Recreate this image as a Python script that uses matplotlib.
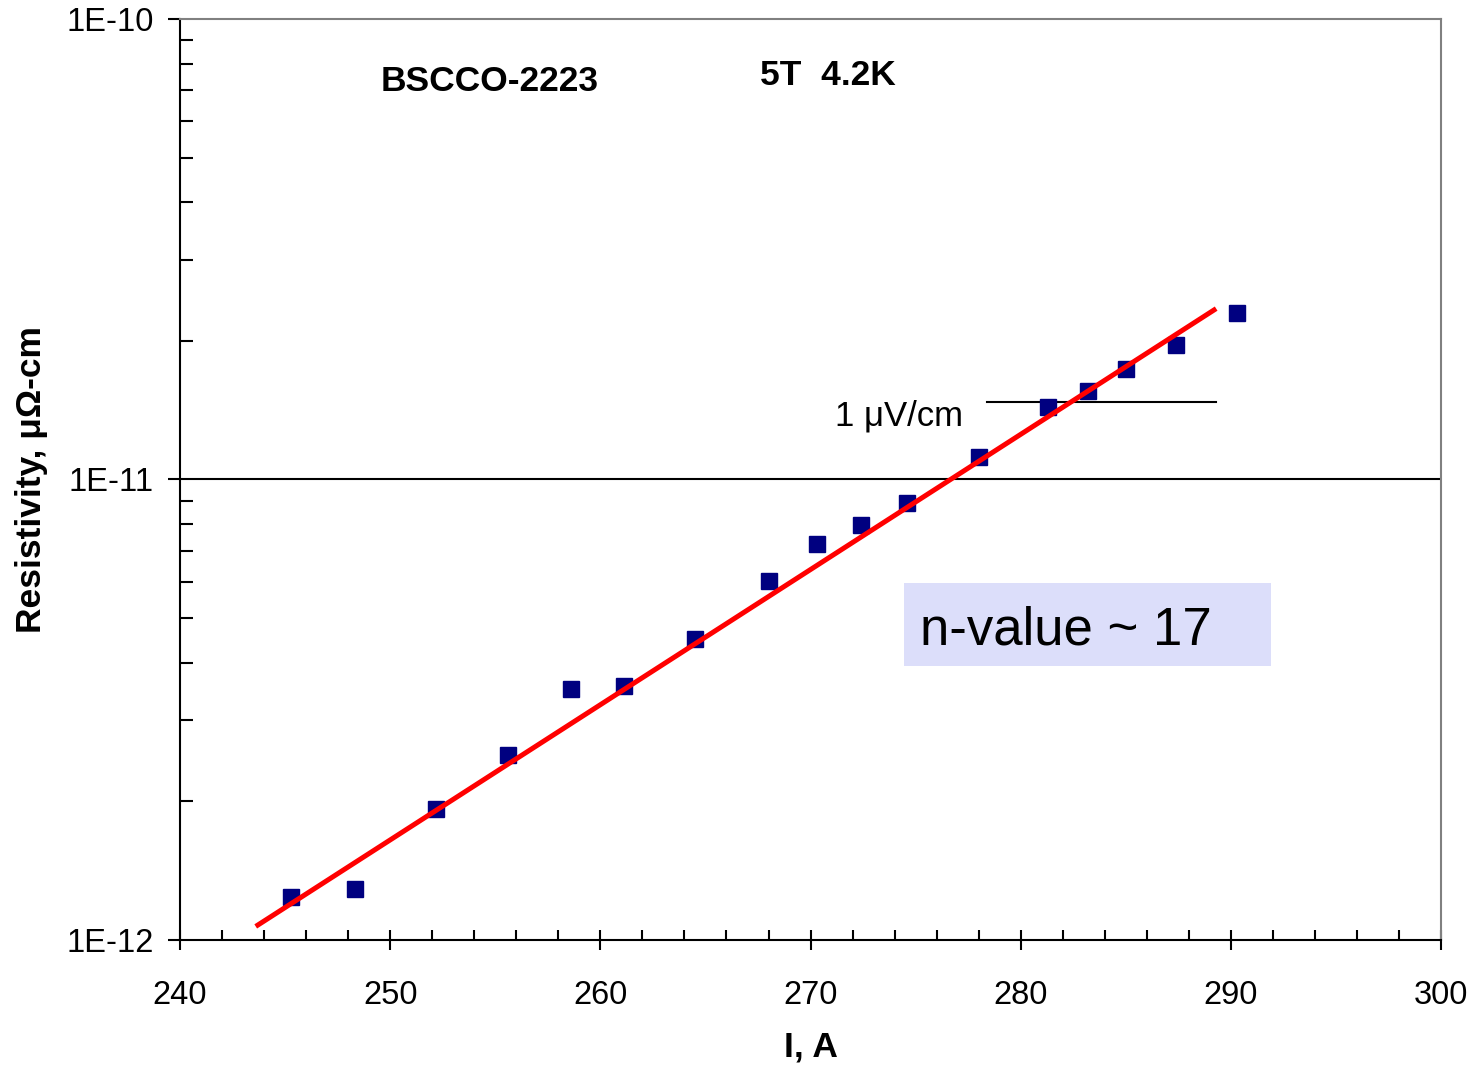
import matplotlib
matplotlib.use("Agg")
import matplotlib.pyplot as plt
import matplotlib.ticker as ticker
import matplotlib.patches as patches

plt.rcParams['font.family'] = ['Liberation Sans', 'DejaVu Sans']

## Measured points: current (A) and resistivity (uOhm-cm)
current = [245.3, 248.3, 252.2, 255.6, 258.6, 261.1, 264.5, 268.0, 270.3,
           272.4, 274.6, 278.0, 281.3, 283.2, 285.0, 287.4, 290.3]
resistivity = [1.24e-12, 1.29e-12, 1.92e-12, 2.52e-12, 3.51e-12, 3.56e-12,
               4.50e-12, 6.02e-12, 7.24e-12, 7.97e-12, 8.89e-12, 1.12e-11,
               1.44e-11, 1.56e-11, 1.74e-11, 1.96e-11, 2.30e-11]

## Fit line end points
fit_x = [243.6, 289.3]
fit_y = [1.07e-12, 2.35e-11]

## 1 uV/cm criterion line
crit_x = [278.4, 289.3]
crit_y = 1.47e-11

x_ticks = [240, 250, 260, 270, 280, 290, 300]
y_ticks = [1e-12, 1e-11, 1e-10]
y_tick_labels = ["1E-12", "1E-11", "1E-10"]

fig = plt.figure(figsize=(14.76, 10.68), dpi=100)
ax = fig.add_axes([0.122, 0.1199, 0.8543, 0.8623])

ax.set_yscale('log')
ax.set_xlim(240, 300)
ax.set_ylim(1e-12, 1e-10)

ax.axhline(1e-11, color='black', lw=1.5, zorder=1)
ax.plot(crit_x, [crit_y, crit_y], color='black', lw=1.5, zorder=1)
ax.plot(current, resistivity, 's', color='#000080', markersize=11, zorder=3)
ax.plot(fit_x, fit_y, color='#FF0000', lw=3.6, zorder=4, solid_capstyle='butt')

## n-value box
ax.add_patch(patches.Rectangle((0.574, 0.2975), 0.291, 0.0901, transform=ax.transAxes,
                               facecolor='#DCDEFA', edgecolor='none', zorder=2))
ax.text(0.5868, 0.3203, "n-value ~ 17", transform=ax.transAxes, fontsize=38,
        ha='left', va='baseline', zorder=5)

ax.text(0.1594, 0.9218, "BSCCO-2223", transform=ax.transAxes, fontsize=25.5,
        fontweight='bold', ha='left', va='baseline')
ax.text(0.460, 0.928, "5T  4.2K", transform=ax.transAxes, fontsize=25.5,
        fontweight='bold', ha='left', va='baseline')
ax.text(0.519, 0.559, "1 \u03bcV/cm", transform=ax.transAxes, fontsize=25,
        ha='left', va='baseline')

## Axis styling
ax.xaxis.set_major_locator(ticker.FixedLocator(x_ticks))
ax.xaxis.set_minor_locator(ticker.MultipleLocator(2))
ax.set_xticklabels([str(t) for t in x_ticks])
ax.yaxis.set_major_locator(ticker.FixedLocator(y_ticks))
ax.yaxis.set_minor_locator(ticker.LogLocator(base=10, subs=range(2, 10)))
ax.yaxis.set_minor_formatter(ticker.NullFormatter())
ax.set_yticklabels(y_tick_labels)

ax.tick_params(axis='x', which='major', direction='inout', length=14, width=1.5,
               labelsize=23.5, pad=22)
ax.tick_params(axis='x', which='minor', direction='in', length=7, width=1.5)
ax.tick_params(axis='y', which='major', direction='out', length=9, width=1.5,
               labelsize=23.5, pad=10)
ax.tick_params(axis='y', which='minor', direction='in', length=9, width=1.5)

for s in ['left', 'bottom']:
    ax.spines[s].set_linewidth(1.5)
    ax.spines[s].set_color('black')
for s in ['top', 'right']:
    ax.spines[s].set_linewidth(1.5)
    ax.spines[s].set_color('#808080')

ax.set_xlabel("I, A", fontsize=25.5, fontweight='bold', labelpad=14)
ax.set_ylabel("Resistivity, \u03bc\u03a9-cm", fontsize=25.5, fontweight='bold', labelpad=13)

fig.savefig("out.png", dpi=100)
